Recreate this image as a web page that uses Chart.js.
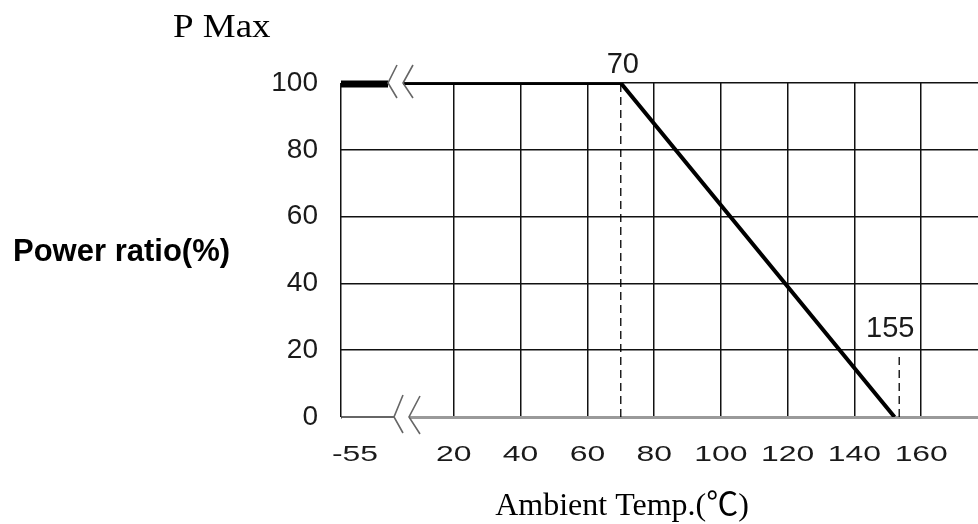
<!DOCTYPE html>
<html>
<head>
<meta charset="utf-8">
<script src="https://cdn.jsdelivr.net/npm/chart.js@4.4.1/dist/chart.umd.min.js"></script>
<style>
  html, body { margin: 0; padding: 0; background: #fff; }
  #wrap { width: 978px; height: 524px; }
</style>
</head>
<body>
<div id="wrap"><canvas id="derating" width="978" height="524"></canvas></div>
<script>
// derating curve
const tempC = [-55, 70, 152];
const powerPct = [100, 100, 0];
// dashed marker lines and their labels
const markerTemps = [70, 153.4];
const markerTops = [100, 19.3];
const markerLabels = ['70', '155'];
// axis ticks
const xTickValues = [20, 40, 60, 80, 100, 120, 140, 160];
const xBreakLabel = '-55';
const yTickValues = [0, 20, 40, 60, 80, 100];

// broken x axis: -55..20 is squeezed into the first (wide) column
const X_MIN = -13.8, X_MAX = 177;
const BREAK_FROM = -55;
function axisX(t) {
    if (t >= 20) return t;
    return 20 - (20 - t) * (20 - X_MIN) / (20 - BREAK_FROM);
}

const SANS = "'Liberation Sans', Arial, sans-serif";
const SERIF = "'Liberation Serif', 'Times New Roman', 'Noto Sans CJK JP', serif";

function chevron(ctx, ax, ay, dx, up, down) {
    ctx.beginPath();
    ctx.moveTo(ax + dx, ay - up);
    ctx.lineTo(ax, ay);
    ctx.lineTo(ax + dx, ay + down);
    ctx.stroke();
}

const decorPlugin = {
    id: 'decor',
    afterDraw(chart) {
        const { ctx, scales: { x, y } } = chart;
        const yTop = y.getPixelForValue(100);
        const yBot = y.getPixelForValue(0);
        const x0 = x.getPixelForValue(axisX(BREAK_FROM));
        ctx.save();

        // heavier stub left of the top break
        ctx.strokeStyle = '#000';
        ctx.lineCap = 'butt';
        ctx.lineWidth = 7;
        ctx.beginPath(); ctx.moveTo(x0, yTop + 1); ctx.lineTo(x0 + 47, yTop + 1); ctx.stroke();

        // gaps in the lines at the break
        ctx.fillStyle = '#fff';
        ctx.fillRect(x0 + 47.5, yTop - 5, 14.5, 10);
        ctx.fillRect(x0 + 1, yBot - 3, 67, 6);
        ctx.strokeStyle = '#333';
        ctx.lineWidth = 1.5;
        ctx.beginPath(); ctx.moveTo(x0, yBot); ctx.lineTo(x0 + 53, yBot); ctx.stroke();

        // break marks
        ctx.strokeStyle = '#666';
        ctx.lineWidth = 1.6;
        chevron(ctx, x0 + 47, yTop, 9, 18, 15);
        chevron(ctx, x0 + 62, yTop, 10, 18, 15);
        chevron(ctx, x0 + 53, yBot, 9, 22, 16);
        chevron(ctx, x0 + 68, yBot, 11, 21, 17);

        // x tick labels (wide digits in the original)
        ctx.fillStyle = '#1a1a1a';
        ctx.font = '22px ' + SANS;
        ctx.textAlign = 'center';
        ctx.textBaseline = 'alphabetic';
        const xl = [[x0 + 14, xBreakLabel]].concat(xTickValues.map(v => [x.getPixelForValue(v), String(v)]));
        xl.forEach(([px, txt]) => {
            ctx.save();
            ctx.translate(px, 461);
            ctx.scale(1.45, 1);
            ctx.fillText(txt, 0, 0);
            ctx.restore();
        });

        // marker labels
        ctx.font = '29px ' + SANS;
        ctx.fillText(markerLabels[0], x.getPixelForValue(markerTemps[0]) + 2, yTop - 10);
        ctx.fillText(markerLabels[1], x.getPixelForValue(markerTemps[1]) - 9, y.getPixelForValue(20) - 13);

        // titles
        ctx.fillStyle = '#000';
        ctx.textAlign = 'left';
        ctx.save();
        ctx.translate(173, 37);
        ctx.scale(1.12, 1);
        ctx.font = '33px ' + SERIF;
        ctx.fillText('P Max', 0, 0);
        ctx.restore();

        ctx.font = 'bold 31px ' + SANS;
        ctx.fillText('Power ratio(%)', 13, 261);

        ctx.font = '32px ' + SERIF;
        ctx.textAlign = 'center';
        ctx.fillText('Ambient Temp.(℃)', 622, 515);

        ctx.restore();
    }
};

const curve = tempC.map((t, i) => ({ x: axisX(t), y: powerPct[i] }));
const markerSets = markerTemps.map((t, i) => ({
    data: [{ x: t, y: 0 }, { x: t, y: markerTops[i] }],
    borderColor: '#000',
    borderWidth: 1.3,
    borderDash: [8, 5],
    pointRadius: 0,
    order: 2
}));

new Chart(document.getElementById('derating'), {
    type: 'line',
    data: {
        datasets: [{
            data: curve,
            borderColor: '#000',
            borderWidth: 4,
            borderCapStyle: 'butt',
            borderJoinStyle: 'miter',
            pointRadius: 0,
            tension: 0,
            order: 1
        }].concat(markerSets)
    },
    options: {
        responsive: false,
        animation: false,
        events: [],
        layout: { padding: { top: 83, right: 0, bottom: 0, left: 0 } },
        plugins: { legend: { display: false }, tooltip: { enabled: false } },
        scales: {
            x: {
                type: 'linear',
                min: X_MIN,
                max: X_MAX,
                afterBuildTicks: s => { s.ticks = [X_MIN].concat(xTickValues).map(v => ({ value: v })); },
                afterFit: s => { s.height = 107; },
                ticks: { display: false },
                grid: { color: '#111', lineWidth: 1.5, drawTicks: false },
                border: { display: false }
            },
            y: {
                min: 0,
                max: 100,
                afterBuildTicks: s => { s.ticks = yTickValues.map(v => ({ value: v })); },
                afterFit: s => { s.width = 341; },
                ticks: { color: '#1a1a1a', padding: 23, font: { family: SANS, size: 28 } },
                grid: {
                    drawTicks: false,
                    color: c => c.tick && c.tick.value === 0 ? '#9a9a9a' : '#111',
                    lineWidth: c => c.tick && c.tick.value === 0 ? 3 : 1.5
                },
                border: { display: false }
            }
        }
    },
    plugins: [decorPlugin]
});
</script>
</body>
</html>
